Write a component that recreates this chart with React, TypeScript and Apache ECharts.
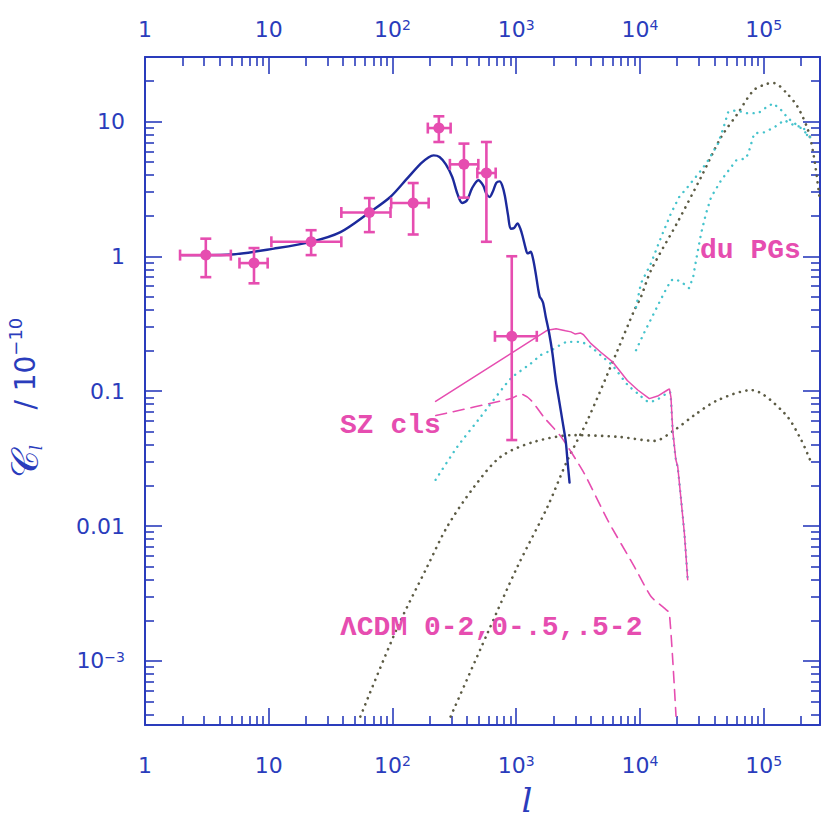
import React, { useEffect, useRef } from "react";
import * as echarts from "echarts";

// ---- axis ranges & tick definitions ----
const X_MIN = 1;
const X_MAX = 2.85e5;
const Y_MIN = 3.35e-4;
const Y_MAX = 30;

const xMajorValues = [1, 10, 100, 1000, 10000, 100000];
const xMajorLabels = ["1", "10", "10{s|2}", "10{s|3}", "10{s|4}", "10{s|5}"];
const yMajorValues = [0.001, 0.01, 0.1, 1, 10];
const yMajorLabels = ["10{s|−3}", "0.01", "0.1", "1", "10"];
const minorMultipliers = [2, 3, 4, 5, 6, 7, 8, 9];

// ---- observed band powers (l, l range, C_l, C_l range) ----
const obsL = [3.1, 7.6, 22, 65, 147, 237, 378, 574, 920];
const obsLLo = [1.92, 5.8, 10.5, 38.6, 97.6, 193, 291, 485, 673];
const obsLHi = [4.94, 9.8, 38.6, 96.4, 196, 295, 494, 682, 1466];
const obsC = [1.02, 0.89, 1.28, 2.11, 2.48, 8.92, 4.8, 4.14, 0.255];
const obsCLo = [0.7, 0.63, 1.02, 1.51, 1.45, 7.03, 2.72, 1.28, 0.0434];
const obsCHi = [1.35, 1.15, 1.56, 2.7, 3.49, 10.9, 6.84, 7.03, 1.0];

// ---- LCDM primary CMB spectrum ----
const cmbL = [2, 3, 5, 11, 22, 38, 65, 96, 131, 169, 195, 215, 240, 270, 304, 335, 366, 400, 440, 494, 540, 575, 610, 650, 690, 735, 770, 810, 860, 903, 960, 1023, 1080, 1130, 1190, 1232, 1270, 1309, 1370, 1439, 1500, 1549, 1600, 1650, 1733, 1845, 1963, 2090, 2222, 2366, 2515, 2600, 2697];
const cmbC = [1.02, 1.02, 1.03, 1.14, 1.28, 1.51, 2.11, 2.75, 3.76, 4.86, 5.4, 5.6, 5.45, 4.8, 3.87, 2.9, 2.48, 2.6, 3.2, 3.66, 3.35, 2.9, 2.75, 3.05, 3.5, 3.59, 3.35, 2.8, 2.0, 1.6, 1.62, 1.75, 1.6, 1.39, 1.15, 1.05, 1.06, 1.08, 0.95, 0.74, 0.58, 0.5, 0.48, 0.45, 0.355, 0.27, 0.19, 0.12, 0.085, 0.06, 0.042, 0.03, 0.021];

// ---- SZ clusters (solid, dashed, cyan dotted) ----
const szSolidL = [223, 1790, 2100, 2500, 2770, 3000, 3300, 3500, 4000, 4800, 6000, 7900, 9600, 11900, 13900, 16700, 17300, 17800, 18400, 19500, 20200, 22860, 24300];
const szSolidC = [0.084, 0.283, 0.29, 0.28, 0.275, 0.265, 0.27, 0.262, 0.226, 0.195, 0.165, 0.12, 0.102, 0.088, 0.092, 0.102, 0.104, 0.09, 0.051, 0.031, 0.0275, 0.0088, 0.004];
const szDashL = [224, 903, 1100, 1310, 1700, 2300, 3540, 5470, 9000, 12280, 15730, 17270, 19550];
const szDashC = [0.066, 0.088, 0.095, 0.086, 0.063, 0.046, 0.0246, 0.0111, 0.005, 0.003, 0.00246, 0.00226, 0.00039];
const szCyanL = [223, 334, 516, 903, 1310, 1580, 1900, 2600, 3300, 4000, 4800, 6000, 7900, 9600, 11900, 13900, 16700, 17500, 18400, 19500, 20200, 22860, 24300];
const szCyanC = [0.022, 0.0387, 0.0645, 0.124, 0.16, 0.185, 0.2, 0.232, 0.232, 0.213, 0.185, 0.155, 0.112, 0.096, 0.083, 0.087, 0.097, 0.098, 0.05, 0.031, 0.027, 0.0088, 0.004];

// ---- primeval galaxies (olive dotted) ----
const pg1L = [295, 585, 1023, 1790, 2594, 3770, 6590, 9000, 10190, 12280, 20200, 31200, 45300, 61500, 83000, 107000, 121000, 155000, 188000, 228000, 255000, 282000];
const pg1C = [3.87e-4, 1.6e-3, 5.0e-3, 0.0139, 0.0308, 0.061, 0.201, 0.398, 0.5, 0.787, 1.8, 3.87, 7.65, 11.4, 17, 19, 19.2, 16, 12.8, 8.6, 5.4, 2.75];
const pg2L = [55, 109, 191, 277, 456, 748, 1393, 2940, 6590, 13060, 18960, 27500, 42600, 79200, 147500, 201000, 240000];
const pg2C = [3.87e-4, 1.75e-3, 5.0e-3, 9.9e-3, 0.0195, 0.0326, 0.0421, 0.0472, 0.0459, 0.0428, 0.0514, 0.0664, 0.0858, 0.1017, 0.0684, 0.0434, 0.03];

// ---- primeval galaxies (cyan dotted) ----
const pgc1L = [9290, 10190, 12280, 14790, 17820, 20700, 24950, 31200, 35560, 42850, 47900, 51600, 59900, 72100, 90200, 104700, 119400, 138600, 157900, 201300, 251800];
const pgc1C = [0.419, 0.631, 0.887, 1.38, 2.08, 2.74, 3.36, 4.34, 5.14, 6.87, 9.34, 11.7, 12.1, 11.5, 11.5, 12.7, 13.6, 12.1, 10.5, 8.87, 7.23];
const pgc2L = [9290, 10770, 12970, 15630, 17820, 19550, 22280, 24950, 26870, 28390, 31200, 34200, 37560, 45300, 59900, 72100, 76400, 83800, 101000, 121600, 146600, 176600, 209000, 229000];
const pgc2C = [0.201, 0.269, 0.378, 0.532, 0.664, 0.675, 0.631, 0.58, 0.699, 0.934, 1.48, 2.08, 2.74, 3.66, 5.14, 5.32, 6.1, 8.15, 8.29, 9.03, 10.2, 9.34, 9.03, 7.61];

// ---- styling ----
const AXIS = "#2a3cbc";
const PINK = "#e64db0";
const BLUE = "#1c2a9c";
const CYAN = "#45c3cc";
const OLIVE = "#5c5b44";
const TICK_FONT = "DejaVu Sans";

const lg = Math.log10;
const zip = (a: number[], b: number[]) => a.map((v, i) => [v, b[i]]);

function minorTickValues(min: number, max: number): number[] {
  const out: number[] = [];
  for (let e = Math.floor(lg(min)); e <= Math.ceil(lg(max)); e++) {
    for (const m of minorMultipliers) {
      const v = m * Math.pow(10, e);
      if (v > min && v < max) out.push(lg(v));
    }
  }
  return out;
}

function labelFor(values: number[], labels: string[]) {
  return (val: number) => {
    const i = values.findIndex((v) => Math.abs(lg(v) - val) < 1e-6);
    return i >= 0 ? labels[i] : "";
  };
}

const labelText = {
  color: AXIS,
  fontFamily: TICK_FONT,
  fontSize: 22,
  rich: {
    s: { color: AXIS, fontFamily: TICK_FONT, fontSize: 14, verticalAlign: "top" },
  },
};

function dataAxis(kind: "x" | "y", position: string) {
  return {
    type: "log",
    logBase: 10,
    position,
    min: kind === "x" ? X_MIN : Y_MIN,
    max: kind === "x" ? X_MAX : Y_MAX,
    axisLine: { show: true, onZero: false, lineStyle: { color: AXIS, width: 2 } },
    axisTick: { show: false },
    minorTick: { show: false },
    axisLabel: { show: false },
    splitLine: { show: false },
  };
}

function tickAxis(kind: "x" | "y", position: string, major: boolean, withLabels: boolean, margin: number) {
  const min = kind === "x" ? X_MIN : Y_MIN;
  const max = kind === "x" ? X_MAX : Y_MAX;
  const values = kind === "x" ? xMajorValues : yMajorValues;
  const labels = kind === "x" ? xMajorLabels : yMajorLabels;
  const ticks = major ? values.map(lg) : minorTickValues(min, max);
  return {
    type: "value",
    position,
    min: lg(min),
    max: lg(max),
    axisLine: { show: false, onZero: false },
    splitLine: { show: false },
    axisTick: {
      show: true,
      inside: true,
      length: major ? 17 : 9,
      customValues: ticks,
      lineStyle: { color: AXIS, width: 1.6 },
    },
    axisLabel: withLabels
      ? { show: true, customValues: values.map(lg), formatter: labelFor(values, labels), margin, ...labelText }
      : { show: false },
  };
}

function lineSeries(name: string, data: number[][], color: string, width: number, type: any, smooth: number | boolean = false) {
  return {
    name,
    type: "line",
    xAxisIndex: 0,
    yAxisIndex: 0,
    data,
    showSymbol: false,
    symbol: "none",
    smooth,
    clip: true,
    lineStyle: { color, width, type, cap: "round" },
    z: 3,
  };
}

const monoText = (text: string, x: number, y: number) => ({
  type: "text",
  x,
  y,
  z: 10,
  style: {
    text,
    fill: PINK,
    fontSize: 28,
    fontWeight: "bold",
    fontFamily: "Liberation Mono",
    verticalAlign: "middle",
    textVerticalAlign: "middle",
  },
});

export default function App() {
  const ref = useRef<HTMLDivElement>(null);

  useEffect(() => {
    if (!ref.current) return;
    const chart = echarts.init(ref.current, undefined, { renderer: "svg" });

    const obsData = obsL.map((l, i) => [l, obsLLo[i], obsLHi[i], obsC[i], obsCLo[i], obsCHi[i]]);
    const dotted = [0.1, 6.5];

    const option: any = {
      animation: false,
      backgroundColor: "#ffffff",
      grid: { left: 145, top: 57, width: 675, height: 668 },
      xAxis: [
        dataAxis("x", "bottom"),
        dataAxis("x", "top"),
        tickAxis("x", "bottom", true, true, 29),
        tickAxis("x", "bottom", false, false, 0),
        tickAxis("x", "top", true, true, 17),
        tickAxis("x", "top", false, false, 0),
      ],
      yAxis: [
        dataAxis("y", "left"),
        dataAxis("y", "right"),
        tickAxis("y", "left", true, true, 20),
        tickAxis("y", "left", false, false, 0),
        tickAxis("y", "right", true, false, 0),
        tickAxis("y", "right", false, false, 0),
      ],
      series: [
        lineSeries("PG total", zip(pg1L, pg1C), OLIVE, 2.6, dotted, 0.3),
        lineSeries("PG low-z", zip(pg2L, pg2C), OLIVE, 2.6, dotted, 0.3),
        lineSeries("PG cyan 1", zip(pgc1L, pgc1C), CYAN, 2.4, dotted),
        lineSeries("PG cyan 2", zip(pgc2L, pgc2C), CYAN, 2.4, dotted),
        lineSeries("SZ cyan", zip(szCyanL, szCyanC), CYAN, 2.4, dotted, 0.2),
        lineSeries("SZ solid", zip(szSolidL, szSolidC), PINK, 1.5, "solid"),
        lineSeries("SZ dashed", zip(szDashL, szDashC), PINK, 1.6, [11, 7], 0.2),
        lineSeries("LCDM", zip(cmbL, cmbC), BLUE, 2.4, "solid", 0.3),
        {
          name: "data",
          type: "custom",
          xAxisIndex: 0,
          yAxisIndex: 0,
          data: obsData,
          encode: { x: [0, 1, 2], y: [3, 4, 5] },
          z: 5,
          renderItem: (params: any, api: any) => {
            const c = api.coord([api.value(0), api.value(3)]);
            const h0 = api.coord([api.value(1), api.value(3)]);
            const h1 = api.coord([api.value(2), api.value(3)]);
            const v0 = api.coord([api.value(0), api.value(4)]);
            const v1 = api.coord([api.value(0), api.value(5)]);
            const cap = 5.5;
            const st = { stroke: PINK, lineWidth: 2.6 };
            return {
              type: "group",
              children: [
                { type: "line", shape: { x1: h0[0], y1: c[1], x2: h1[0], y2: c[1] }, style: st },
                { type: "line", shape: { x1: c[0], y1: v0[1], x2: c[0], y2: v1[1] }, style: st },
                { type: "line", shape: { x1: h0[0], y1: c[1] - cap, x2: h0[0], y2: c[1] + cap }, style: st },
                { type: "line", shape: { x1: h1[0], y1: c[1] - cap, x2: h1[0], y2: c[1] + cap }, style: st },
                { type: "line", shape: { x1: c[0] - cap, y1: v0[1], x2: c[0] + cap, y2: v0[1] }, style: st },
                { type: "line", shape: { x1: c[0] - cap, y1: v1[1], x2: c[0] + cap, y2: v1[1] }, style: st },
                { type: "circle", shape: { cx: c[0], cy: c[1], r: 5.5 }, style: { fill: PINK } },
              ],
            };
          },
        },
      ],
      graphic: [
        monoText("SZ cls", 340, 425),
        monoText("ΛCDM 0-2,0-.5,.5-2", 340, 627),
        monoText("du PGs", 700, 250),
        {
          type: "text",
          x: 527,
          y: 800,
          z: 10,
          style: { text: "l", fill: AXIS, fontSize: 34, fontStyle: "italic", fontFamily: "DejaVu Serif", align: "center", textAlign: "center", verticalAlign: "middle", textVerticalAlign: "middle" },
        },
        {
          type: "text",
          x: 25,
          y: 398,
          rotation: Math.PI / 2,
          z: 10,
          style: {
            text: "{c|𝒞}{l|l}{n|    / 10}{e|−10}",
            fill: AXIS,
            align: "center",
            textAlign: "center",
            verticalAlign: "middle",
            textVerticalAlign: "middle",
            rich: {
              c: { fontSize: 38, fontFamily: "DejaVu Serif", fill: AXIS, color: AXIS },
              l: { fontSize: 16, fontFamily: "DejaVu Serif", fontStyle: "italic", fill: AXIS, color: AXIS, verticalAlign: "bottom" },
              n: { fontSize: 28, fontFamily: TICK_FONT, fill: AXIS, color: AXIS },
              e: { fontSize: 18, fontFamily: TICK_FONT, fill: AXIS, color: AXIS, verticalAlign: "top" },
            },
          },
        },
      ],
    };

    chart.setOption(option);
    return () => chart.dispose();
  }, []);

  return (
    <div
      ref={ref}
      style={{ position: "absolute", left: 0, top: 0, width: 827, height: 822, background: "#fff" }}
    />
  );
}
